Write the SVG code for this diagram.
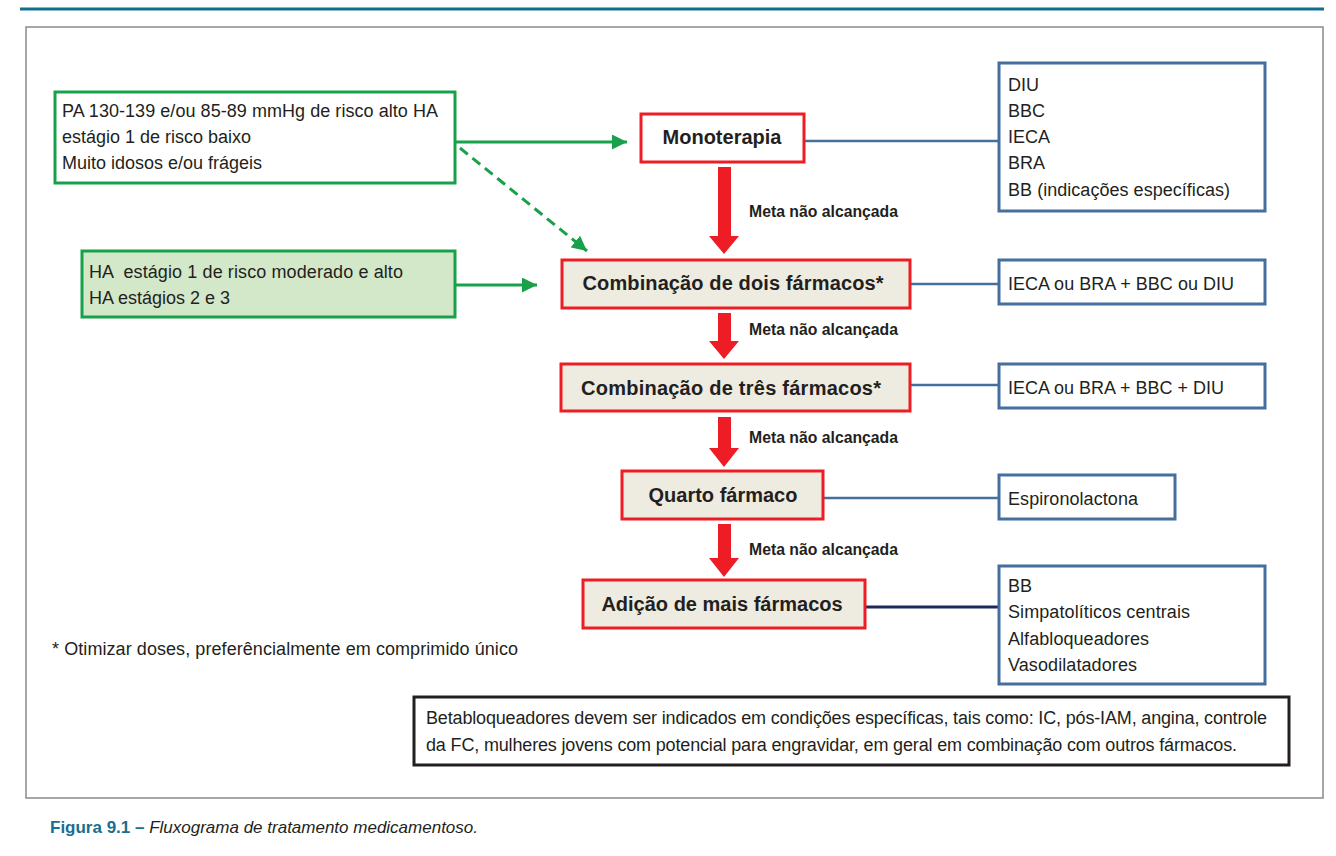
<svg xmlns="http://www.w3.org/2000/svg" width="1336" height="856" viewBox="0 0 1336 856">
<defs>
<style>
.t{font-family:"Liberation Sans",Arial,sans-serif;font-size:18px;fill:#231f20}
.b{font-family:"Liberation Sans",Arial,sans-serif;font-size:20px;font-weight:bold;fill:#231f20;text-anchor:middle}
.m{font-family:"Liberation Sans",Arial,sans-serif;font-size:17px;font-weight:bold;fill:#231f20}
.red{fill:#fff;stroke:#ee1c24;stroke-width:3}
.redb{fill:#eeebe0;stroke:#ee1c24;stroke-width:3}
.blue{fill:#fff;stroke:#456f9e;stroke-width:3}
.green{fill:#fff;stroke:#18a04a;stroke-width:3}
.greenf{fill:#d3e8c8;stroke:#18a04a;stroke-width:3}
.bl{stroke:#456f9e;stroke-width:2.5;fill:none}
.gl{stroke:#18a04a;stroke-width:3;fill:none}
.ra{fill:#ee1c24}
</style>
<marker id="ga" viewBox="0 0 10 10" refX="10" refY="5" markerWidth="5" markerHeight="5" orient="auto" markerUnits="strokeWidth">
<path d="M0,0 L10,5 L0,10 z" fill="#18a04a"/>
</marker>
</defs>
<rect width="1336" height="856" fill="#fff"/>
<line x1="20" y1="9" x2="1324" y2="9" stroke="#0e6f8f" stroke-width="3"/>
<rect x="26" y="27" width="1297" height="771" fill="none" stroke="#8a8a8a" stroke-width="1.5"/>

<g id="connectors">
<line class="gl" x1="456" y1="142" x2="627" y2="142" marker-end="url(#ga)"/>
<line class="gl" x1="460" y1="148" x2="587" y2="251" stroke-dasharray="10,6" marker-end="url(#ga)"/>
<line class="gl" x1="456" y1="285" x2="537" y2="285" marker-end="url(#ga)"/>
<line class="bl" x1="805" y1="141" x2="999" y2="141"/>
<line class="bl" x1="911" y1="284" x2="999" y2="284"/>
<line class="bl" x1="911" y1="385" x2="999" y2="385"/>
<line class="bl" x1="824" y1="498" x2="999" y2="498"/>
<line x1="866" y1="607" x2="999" y2="607" stroke="#1f2a5c" stroke-width="3"/>
<path class="ra" d="M718,167 H731 V236 H739 L724,254 L709,236 H718 Z"/>
<path class="ra" d="M718,313 H731 V341 H739 L724,359 L709,341 H718 Z"/>
<path class="ra" d="M718,417 H731 V448 H739 L724,467 L709,448 H718 Z"/>
<path class="ra" d="M718,524 H731 V558 H739 L724,577 L709,558 H718 Z"/>
<text class="m" x="749" y="217" textLength="149" lengthAdjust="spacingAndGlyphs">Meta não alcançada</text>
<text class="m" x="749" y="335" textLength="149" lengthAdjust="spacingAndGlyphs">Meta não alcançada</text>
<text class="m" x="749" y="443" textLength="149" lengthAdjust="spacingAndGlyphs">Meta não alcançada</text>
<text class="m" x="749" y="555" textLength="149" lengthAdjust="spacingAndGlyphs">Meta não alcançada</text>
</g>

<g id="cond1">
<rect class="green" x="55" y="92" width="400" height="91"/>
<text class="t" x="62" y="117" textLength="376">PA 130-139 e/ou 85-89 mmHg de risco alto HA</text>
<text class="t" x="62" y="143">estágio 1 de risco baixo</text>
<text class="t" x="62" y="169">Muito idosos e/ou frágeis</text>
</g>
<g id="cond2">
<rect class="greenf" x="82" y="251" width="373" height="66"/>
<text class="t" x="89" y="278" textLength="314" xml:space="preserve">HA  estágio 1 de risco moderado e alto</text>
<text class="t" x="89" y="304">HA estágios 2 e 3</text>
</g>

<g id="mono">
<rect class="red" x="641" y="114" width="163" height="48"/>
<text class="b" x="722" y="144">Monoterapia</text>
</g>
<g id="dois">
<rect class="redb" x="562" y="260" width="348" height="48"/>
<text class="b" x="733" y="290" textLength="301">Combinação de dois fármacos*</text>
</g>
<g id="tres">
<rect class="redb" x="561" y="364" width="349" height="47"/>
<text class="b" x="731" y="395" textLength="300">Combinação de três fármacos*</text>
</g>
<g id="quarto">
<rect class="redb" x="622" y="471" width="201" height="48"/>
<text class="b" x="723" y="502">Quarto fármaco</text>
</g>
<g id="adicao">
<rect class="redb" x="583" y="580" width="282" height="48"/>
<text class="b" x="722" y="611">Adição de mais fármacos</text>
</g>

<g id="opt1">
<rect class="blue" x="999" y="63" width="266" height="148"/>
<text class="t" x="1008" y="91">DIU</text>
<text class="t" x="1008" y="117">BBC</text>
<text class="t" x="1008" y="143">IECA</text>
<text class="t" x="1008" y="169">BRA</text>
<text class="t" x="1008" y="196" textLength="222">BB (indicações específicas)</text>
</g>
<g id="opt2">
<rect class="blue" x="999" y="260" width="266" height="44"/>
<text class="t" x="1008" y="290" textLength="226">IECA ou BRA + BBC ou DIU</text>
</g>
<g id="opt3">
<rect class="blue" x="999" y="364" width="266" height="44"/>
<text class="t" x="1008" y="394" textLength="216">IECA ou BRA + BBC + DIU</text>
</g>
<g id="opt4">
<rect class="blue" x="999" y="475" width="176" height="44"/>
<text class="t" x="1008" y="505" textLength="130">Espironolactona</text>
</g>
<g id="opt5">
<rect class="blue" x="999" y="566" width="266" height="118"/>
<text class="t" x="1008" y="592">BB</text>
<text class="t" x="1008" y="618" textLength="182">Simpatolíticos centrais</text>
<text class="t" x="1008" y="645" textLength="141">Alfabloqueadores</text>
<text class="t" x="1008" y="671" textLength="129">Vasodilatadores</text>
</g>

<g id="footnote">
<text class="t" x="52" y="655" textLength="466">* Otimizar doses, preferêncialmente em comprimido único</text>
</g>

<g id="note">
<rect x="414" y="697" width="875" height="68" fill="#fff" stroke="#231f20" stroke-width="3"/>
<text class="t" x="426" y="724" textLength="841">Betabloqueadores devem ser indicados em condições específicas, tais como: IC, pós-IAM, angina, controle</text>
<text class="t" x="426" y="751" textLength="811">da FC, mulheres jovens com potencial para engravidar, em geral em combinação com outros fármacos.</text>
</g>

<text x="50" y="833" font-family="Liberation Sans, Arial, sans-serif" font-size="17px" fill="#231f20" textLength="428" lengthAdjust="spacingAndGlyphs"><tspan font-weight="bold" fill="#1a6e8e">Figura 9.1 –</tspan><tspan font-style="italic"> Fluxograma de tratamento medicamentoso.</tspan></text>
</svg>
